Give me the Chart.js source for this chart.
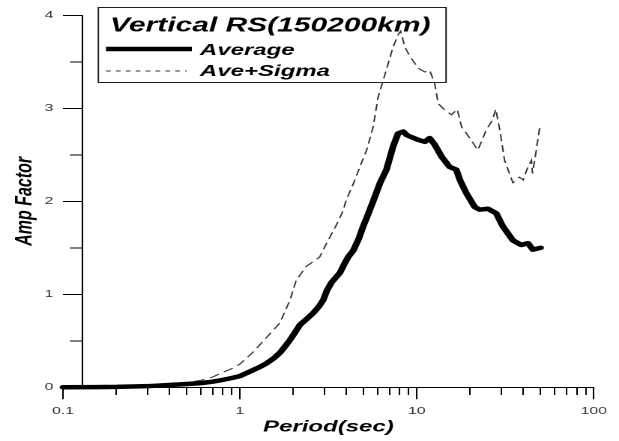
<!DOCTYPE html>
<html><head><meta charset="utf-8">
<script src="https://cdn.jsdelivr.net/npm/chart.js@4.4.1/dist/chart.umd.min.js"></script>
<style>
html,body{margin:0;padding:0;background:#fff;overflow:hidden;}
#wrap{position:absolute;left:0;top:0;width:413px;height:441px;transform:scaleX(1.4988);transform-origin:0 0;}
</style></head><body>
<div id="wrap"><canvas id="c" width="413" height="441"></canvas></div>
<script>
const chartTitle = 'Vertical RS(150200km)';
const seriesNames = ['Average', 'Ave+Sigma'];
const xTitle = 'Period(sec)';
const yTitle = 'Amp Factor';

const avgPeriods = [0.1,0.15,0.2,0.3,0.4,0.5,0.6,0.7,0.8,0.9,1.0,1.14,1.3,1.42,1.55,1.68,1.8,1.92,2.05,2.18,2.4,2.6,2.8,2.96,3.1,3.3,3.67,3.9,4.09,4.37,4.7,4.97,5.3,5.66,6.2,6.73,7.34,7.83,8.36,8.8,9.33,10.2,11.1,11.8,12.6,13.8,15.3,16.7,17.5,19.0,21.2,22.6,25.2,28.1,30.6,34.9,38.9,42.4,45.3,50];
const avgValues = [0.0,0.002,0.004,0.012,0.025,0.035,0.045,0.06,0.08,0.1,0.12,0.17,0.22,0.26,0.31,0.37,0.44,0.51,0.59,0.67,0.74,0.80,0.87,0.94,1.04,1.13,1.23,1.33,1.40,1.47,1.6,1.73,1.86,2.0,2.2,2.34,2.59,2.73,2.75,2.71,2.69,2.66,2.64,2.68,2.61,2.48,2.37,2.34,2.23,2.09,1.94,1.91,1.92,1.87,1.73,1.58,1.53,1.55,1.48,1.50];

const sigmaPeriods = [0.1,0.2,0.3,0.4,0.5,0.6,0.7,0.8,0.9,1.0,1.19,1.42,1.68,1.92,2.08,2.37,2.82,3.09,3.52,3.83,3.98,4.4,4.76,5.2,5.66,6.04,6.45,6.88,7.34,7.83,8.1,8.55,9.12,10.2,11.1,11.8,12.6,13.2,14.4,15.7,16.9,17.9,19.9,22.1,24.7,26.7,27.9,29.4,31.3,34.9,38.0,39.9,42.4,44.4,45.0,47.3,49.4];
const sigmaValues = [0.005,0.01,0.02,0.035,0.05,0.075,0.11,0.16,0.2,0.25,0.38,0.54,0.69,0.94,1.15,1.30,1.40,1.55,1.75,1.9,2.01,2.2,2.37,2.55,2.8,3.12,3.30,3.48,3.66,3.79,3.83,3.66,3.56,3.43,3.39,3.41,3.27,3.05,2.98,2.93,2.99,2.8,2.68,2.55,2.77,2.87,2.99,2.77,2.44,2.2,2.26,2.23,2.37,2.44,2.3,2.55,2.79];

const xTickValues = [0.1,0.2,0.3,0.4,0.5,0.6,0.7,0.8,0.9,1,2,3,4,5,6,7,8,9,10,20,30,40,50,60,70,80,90,100];
const xMajorTicks = [0.1, 1, 10, 100];
const xTickLabels = ['0.1', '1', '10', '100'];
const yMajorTicks = [0, 1, 2, 3, 4];
const yTickLabels = ['0', '1', '2', '3', '4'];

const FAM = "'Liberation Sans', Arial, sans-serif";

const toPts = (xs, ys) => xs.map((x, i) => ({x: x, y: ys[i]}));

const legendBox = {
  id: 'legendBox',
  afterDatasetsDraw(chart) {
    const ctx = chart.ctx;
    ctx.save();
    ctx.strokeStyle = '#222';
    ctx.lineWidth = 1;
    ctx.strokeRect(65.6, 7.5, 232, 75);
    ctx.fillStyle = '#000';
    ctx.textAlign = 'left';
    ctx.textBaseline = 'alphabetic';
    ctx.font = 'italic bold 20px ' + FAM;
    ctx.fillText(chartTitle, 73.4, 31.7);
    const rows = [{y: 49, end: 128, ty: 55, dash: []}, {y: 71, end: 124.6, ty: 76, dash: [3.2, 3.4]}];
    chart.data.datasets.forEach((ds, i) => {
      ctx.beginPath();
      ctx.setLineDash(rows[i].dash);
      ctx.strokeStyle = ds.borderColor;
      ctx.lineWidth = ds.borderWidth;
      ctx.moveTo(70.7, rows[i].y);
      ctx.lineTo(rows[i].end, rows[i].y);
      ctx.stroke();
      ctx.setLineDash([]);
      ctx.font = 'italic bold 16px ' + FAM;
      ctx.fillStyle = '#000';
      ctx.fillText(ds.label, 133.4, rows[i].ty);
    });
    ctx.restore();
  }
};

new Chart(document.getElementById('c'), {
  type: 'line',
  data: {
    datasets: [
      {label: seriesNames[0], data: toPts(avgPeriods, avgValues), borderColor: '#000', borderWidth: 4.5,
       pointRadius: 0, tension: 0, clip: false, borderJoinStyle: 'round', borderCapStyle: 'round'},
      {label: seriesNames[1], data: toPts(sigmaPeriods, sigmaValues), borderColor: '#333', borderWidth: 1,
       borderDash: [7, 4], pointRadius: 0, tension: 0, clip: false}
    ]
  },
  plugins: [legendBox],
  options: {
    responsive: false,
    animation: false,
    devicePixelRatio: 2,
    layout: {padding: {left: 42, right: 16.8, top: 15.3, bottom: 0}},
    plugins: {legend: {display: false}, tooltip: {enabled: false}},
    scales: {
      x: {
        type: 'logarithmic', min: 0.1, max: 100, position: 'bottom', fullSize: true,
        afterBuildTicks: (s) => { s.ticks = xTickValues.map(v => ({value: v, major: xMajorTicks.includes(v)})); },
        afterFit: (s) => { s.height = 53.7; },
        ticks: {
          autoSkip: false, maxRotation: 0, padding: 5.5, color: '#333',
          font: {family: FAM, size: 10.5},
          callback: (v) => { const k = xMajorTicks.indexOf(v); return k >= 0 ? xTickLabels[k] : ''; }
        },
        grid: {
          drawOnChartArea: false, drawTicks: true, tickLength: 12, color: '#000', lineWidth: 1,
          tickBorderDash: (c) => (c.tick && xMajorTicks.includes(c.tick.value)) ? [] : [7, 100]
        },
        border: {display: true, color: '#000', width: 1},
        title: {display: true, text: xTitle, color: '#000', padding: {top: 0, bottom: 4.4},
                font: {family: FAM, size: 16, weight: 'bold', style: 'italic'}}
      },
      y: {
        type: 'linear', min: 0, max: 4, position: 'left',
        afterFit: (s) => { s.width = 12.9; },
        ticks: {
          stepSize: 0.5, autoSkip: false, mirror: true, crossAlign: 'far', padding: -25.1, color: '#333',
          font: {family: FAM, size: 10.5},
          callback: (v) => { const k = yMajorTicks.indexOf(v); return k >= 0 ? yTickLabels[k] : ''; }
        },
        grid: {
          drawOnChartArea: false, drawTicks: true, tickLength: 12.9, color: '#000', lineWidth: 1,
          tickBorderDash: (c) => (c.tick && yMajorTicks.includes(c.tick.value)) ? [] : [0, 4.7, 8.2, 100]
        },
        border: {display: true, color: '#000', width: 1},
        title: {display: true, text: yTitle, color: '#000', padding: {top: -34.9, bottom: 0},
                font: {family: FAM, size: 16, weight: 'bold', style: 'italic'}}
      }
    }
  }
});
</script>
</body></html>
